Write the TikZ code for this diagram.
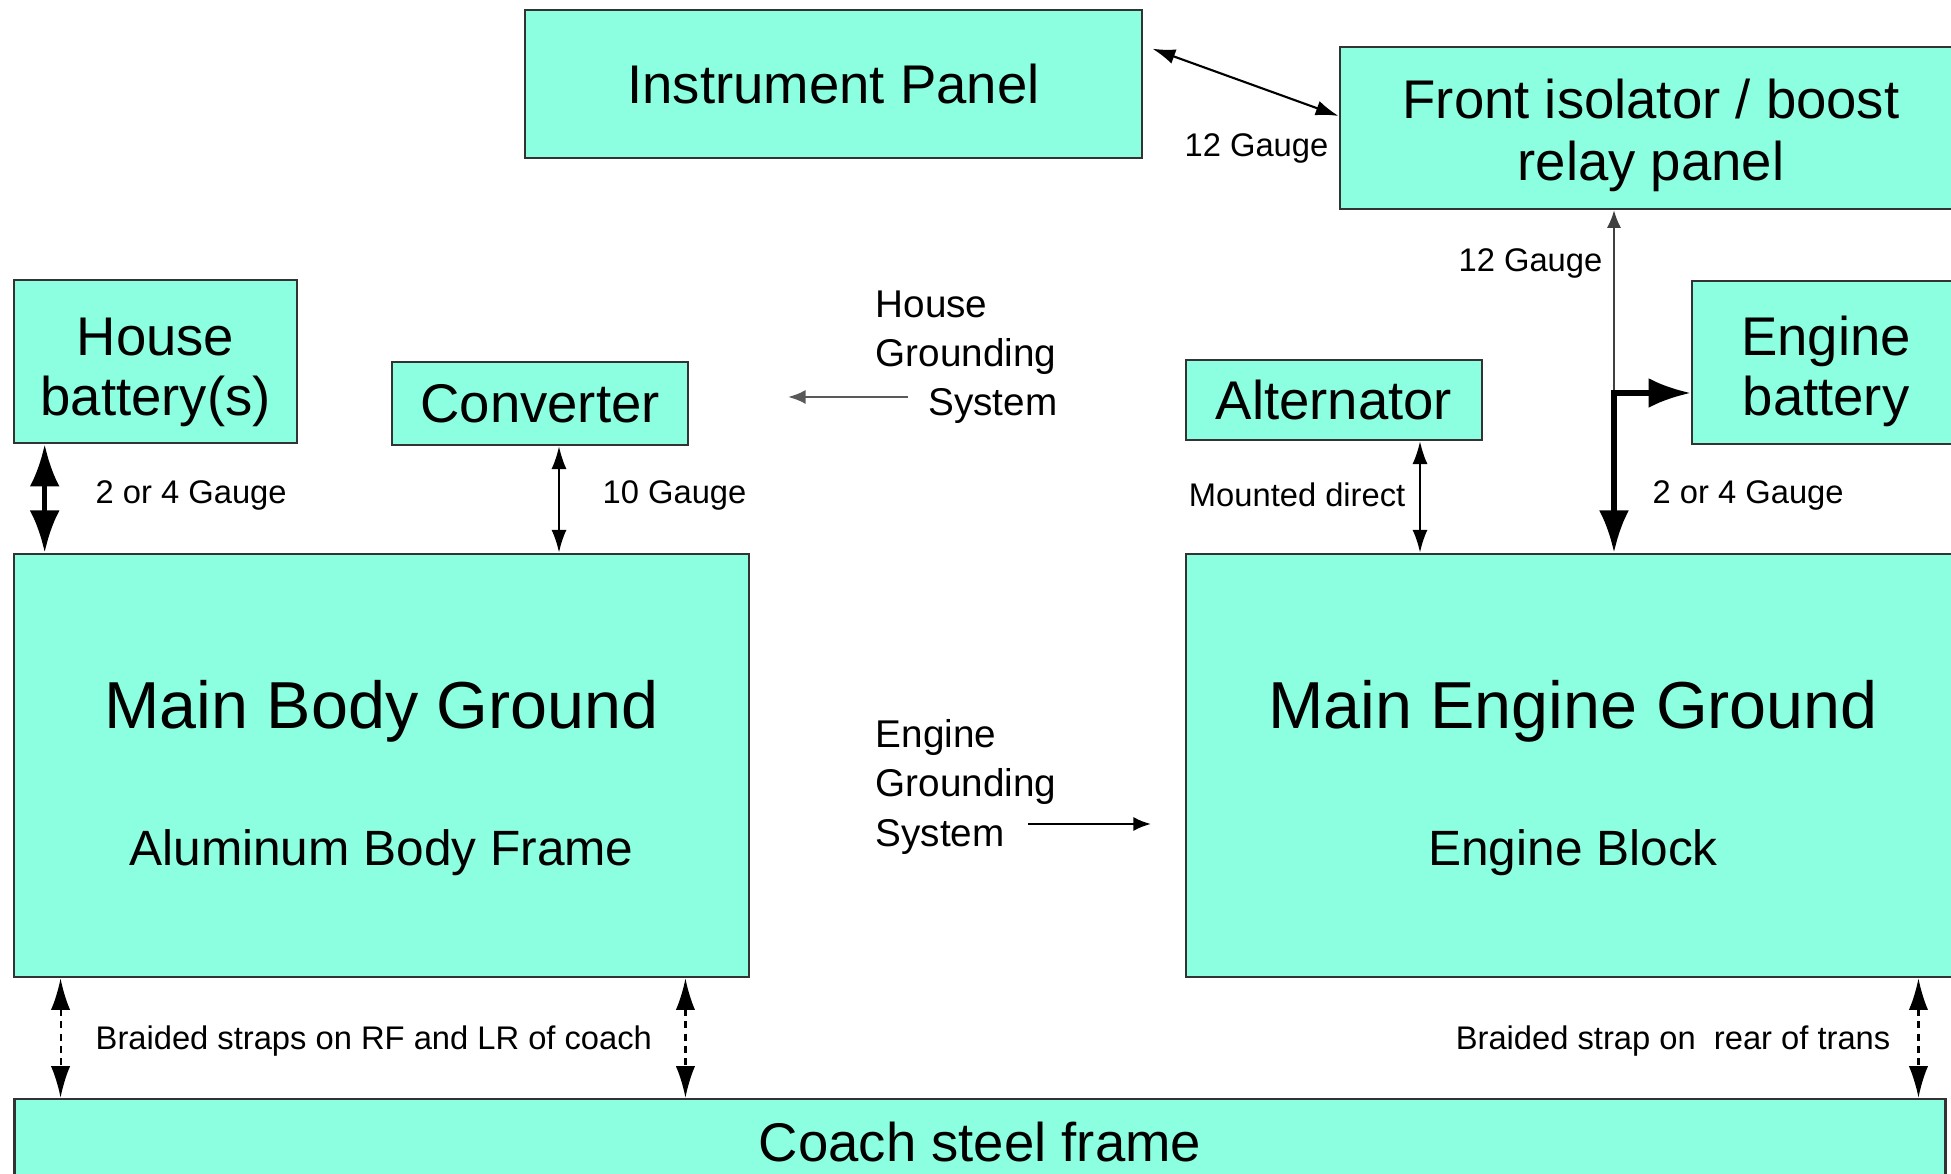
\documentclass[tikz,border=0pt]{standalone}
\usepackage{fontspec}
\setmainfont{Liberation Sans}
\usetikzlibrary{arrows.meta}
\definecolor{boxfill}{RGB}{140,255,225}

\begin{document}
\begin{tikzpicture}[
  x=0.01cm, y=-0.01cm,
  blk/.style={draw=black!80, line width=0.7pt, fill=boxfill, inner sep=0pt, align=center,
              font=\fontsize{15.5}{17.6}\selectfont},
  bigblk/.style={blk, font=\fontsize{14.1}{39}\selectfont},
  lbl/.style={inner sep=0pt, font=\fontsize{9.3}{11}\selectfont},
  side/.style={inner sep=0pt, align=left, font=\fontsize{11}{14}\selectfont},
  wire/.style={{Latex[length=6.5pt,width=4.3pt]}-{Latex[length=6.5pt,width=4.3pt]}, line width=0.6pt},
  heavy/.style={{Latex[length=12pt,width=8.5pt]}-{Latex[length=12pt,width=8.5pt]}, line width=1.5pt},
  strap/.style={{Latex[length=9pt,width=5.5pt]}-{Latex[length=9pt,width=5.5pt]}, line width=0.6pt,
                dash pattern=on 2pt off 1.5pt},
  pointer/.style={-{Latex[length=5pt,width=4pt]}, line width=0.7pt},
]
\useasboundingbox (0,0) rectangle (1951,1174);
\clip (0,0) rectangle (1951,1174);

\node[blk, minimum width=6.17cm, minimum height=1.48cm] (inst) at (833.5,84) {Instrument Panel};
\node[blk, minimum width=6.22cm, minimum height=1.62cm] (front) at (1651,128)
  {\rule{0pt}{15.3pt}Front isolator / boost\\relay panel};
\node[blk, minimum width=2.83cm, minimum height=1.63cm, font=\fontsize{15.5}{17}\selectfont] (hbat) at (155.5,361.5)
  {\rule{0pt}{16.7pt}House\\battery(s)};
\node[blk, minimum width=2.96cm, minimum height=0.83cm] (conv) at (540,403.5) {Converter};
\node[blk, minimum width=2.96cm, minimum height=0.80cm] (alt) at (1334,400) {Alternator};
\node[blk, minimum width=2.68cm, minimum height=1.63cm, font=\fontsize{15.5}{17}\selectfont] (ebat) at (1826,362.5)
  {\rule{0pt}{16.2pt}Engine\\battery};
\node[bigblk, minimum width=7.35cm, minimum height=4.23cm] (body) at (381.5,765.5)
  {{\fontsize{18.9}{23}\selectfont\rule{0pt}{20.8pt}Main Body Ground}\\Aluminum Body Frame};
\node[bigblk, minimum width=7.74cm, minimum height=4.23cm] (engine) at (1573,765.5)
  {{\fontsize{18.9}{23}\selectfont\rule{0pt}{20.8pt}Main Engine Ground}\\Engine Block};
\node[blk, minimum width=19.30cm, minimum height=0.86cm] (coach) at (980,1142) {Coach steel frame};

\node[lbl, anchor=east] (g12a) at (1329,148) {12 Gauge};
\node[lbl, anchor=east] (g12b) at (1603,263) {12 Gauge};
\node[lbl, anchor=west] (g24a) at (95,495) {2 or 4 Gauge};
\node[lbl, anchor=west] (g10) at (602,495) {10 Gauge};
\node[lbl, anchor=east] (mnt) at (1406,495) {Mounted direct};
\node[lbl, anchor=west] (g24b) at (1652,495) {2 or 4 Gauge};
\node[lbl, anchor=west] (brl) at (95,1041) {Braided straps on RF and LR of coach};
\node[lbl, anchor=east] (brr) at (1891,1041) {Braided strap on\ \ rear of trans};

\node[side, anchor=north west] (hgs) at (875,290) {House\\Grounding\\\hspace*{15pt}System};
\node[side, anchor=north west] (egs) at (875,719) {Engine\\Grounding\\System};

\coordinate (hg) at (908,397);
\coordinate (hgtip) at (788,397);
\coordinate (eg) at (1028,824);
\coordinate (egtip) at (1151,824);
\coordinate (hb) at ([shift={(32,0)}]hbat.south west);
\coordinate (cv) at ([shift={(19,0)}]conv.south);
\coordinate (al) at ([shift={(86,0)}]alt.south);
\coordinate (split) at (1614,393);
\coordinate (s1) at ([shift={(48,0)}]body.south west);
\coordinate (s2) at ([shift={(-65,0)}]body.south east);
\coordinate (s3) at ([shift={(-43,0)}]engine.south east);

\draw[wire] ([shift={(9,40)}]inst.north east) -- ([shift={(0,-12)}]front.west);
\draw[heavy] (hb) -- (hb |- body.north);
\draw[wire] (cv) -- (cv |- body.north);
\draw[wire] (al) -- (al |- engine.north);
\draw[pointer, line width=0.5pt, black!75] (split) -- (split |- front.south);
\draw[heavy] (split -| ebat.west) -- (split) -- (split |- engine.north);
\draw[pointer, black!65] (hg) -- (hgtip);
\draw[pointer] (eg) -- (egtip);
\draw[strap] (s1) -- (s1 |- coach.north);
\draw[strap] (s2) -- (s2 |- coach.north);
\draw[strap] (s3) -- (s3 |- coach.north);
\end{tikzpicture}
\end{document}
